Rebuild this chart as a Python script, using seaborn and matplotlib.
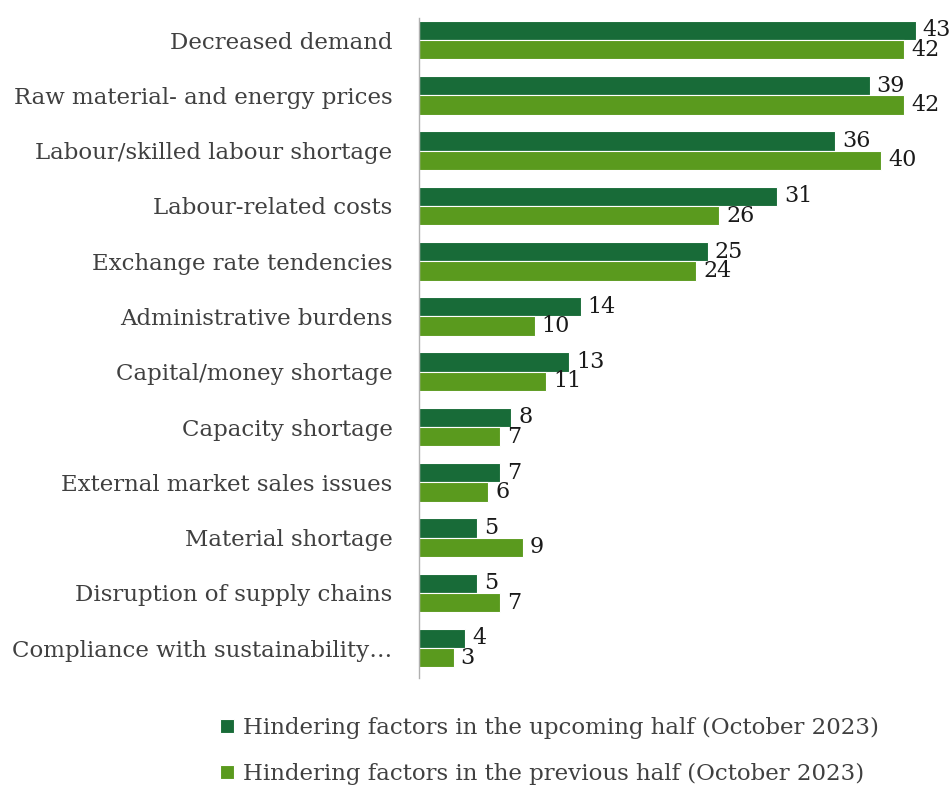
import matplotlib
matplotlib.use("Agg")
import matplotlib.pyplot as plt
import seaborn as sns
import pandas as pd

categories = [
    "Decreased demand",
    "Raw material- and energy prices",
    "Labour/skilled labour shortage",
    "Labour-related costs",
    "Exchange rate tendencies",
    "Administrative burdens",
    "Capital/money shortage",
    "Capacity shortage",
    "External market sales issues",
    "Material shortage",
    "Disruption of supply chains",
    "Compliance with sustainability\u2026",
]
upcoming = [43, 39, 36, 31, 25, 14, 13, 8, 7, 5, 5, 4]
previous = [42, 42, 40, 26, 24, 10, 11, 7, 6, 9, 7, 3]
series_names = [
    "Hindering factors in the upcoming half (October 2023)",
    "Hindering factors in the previous half (October 2023)",
]
colors = ["#186b38", "#5a9a1e"]

df = pd.DataFrame({
    "factor": categories * 2,
    "value": upcoming + previous,
    "series": [series_names[0]] * len(categories) + [series_names[1]] * len(categories),
})

sns.set_theme(style="white")
plt.rcParams["font.family"] = ["DejaVu Serif"]

fig = plt.figure(figsize=(9.51, 7.87), dpi=100)
ax = fig.add_axes([419 / 951, 1 - 678 / 787, 520 / 951, 660 / 787])

sns.barplot(
    data=df, x="value", y="factor", hue="series", order=categories,
    hue_order=series_names, palette=colors, saturation=1, orient="h", width=0.7,
    edgecolor="white", linewidth=0.8, ax=ax, legend=True,
)

for container in ax.containers:
    ax.bar_label(container, fmt="%d", padding=5, fontsize=16, color="#1a1a1a")

ax.set_xlim(0, 45)
ax.set_ylim(11.54, -0.4)
ax.set_xlabel("")
ax.set_ylabel("")
ax.set_xticks([])
ax.tick_params(axis="y", length=0, labelsize=16.5, labelcolor="#404040", pad=19)
for side in ["top", "right", "bottom"]:
    ax.spines[side].set_visible(False)
ax.spines["left"].set_color("#b0b0b0")
ax.spines["left"].set_linewidth(1)

handles, labels = ax.get_legend_handles_labels()
ax.get_legend().remove()
fig.legend(
    handles, labels, loc="lower center", bbox_to_anchor=(0.578, -0.024),
    ncol=1, frameon=False, fontsize=16.5, labelcolor="#404040",
    handlelength=0.6, handleheight=0.6, handletextpad=0.4, labelspacing=1.05,
)

fig.savefig("out.png", dpi=100)
